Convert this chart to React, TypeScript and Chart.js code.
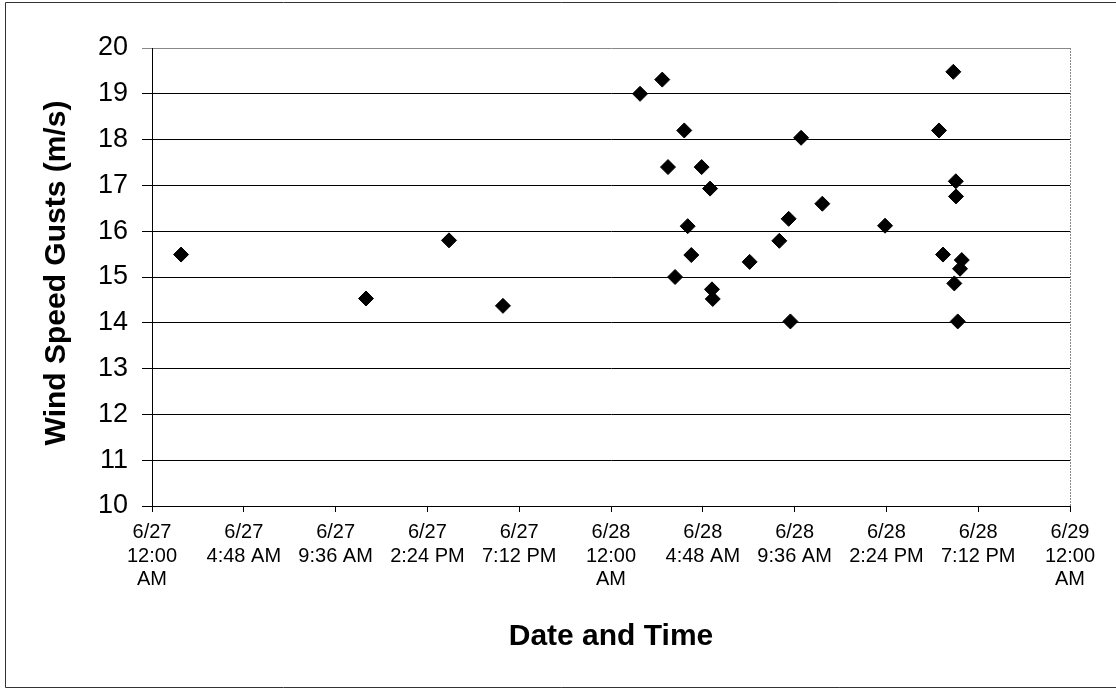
import React, { useEffect, useRef } from "react";
import { Chart, registerables } from "chart.js";

Chart.register(...registerables);

// Hours elapsed since 6/27 12:00 AM for each gust observation
const gustHours: number[] = [
  1.52, 11.19, 15.53, 18.35,
  25.52, 26.68, 27.83, 33.94, 26.98, 28.74, 29.18, 35.05, 33.29, 28.01,
  32.8, 28.2, 31.25, 27.35, 29.28, 29.32, 33.38,
  41.9, 41.15, 42.03, 42.04, 38.33, 41.36, 42.34, 42.25, 41.95, 42.13,
];

// Wind speed gusts (m/s)
const gustSpeeds: number[] = [
  15.49, 14.53, 15.8, 14.37,
  19.0, 19.31, 18.2, 18.04, 17.4, 17.4, 16.93, 16.6, 16.27, 16.11,
  15.79, 15.48, 15.33, 15.0, 14.73, 14.52, 14.03,
  19.48, 18.2, 17.09, 16.76, 16.12, 15.49, 15.37, 15.18, 14.86, 14.03,
];

const xTickHours: number[] = [0, 4.8, 9.6, 14.4, 19.2, 24, 28.8, 33.6, 38.4, 43.2, 48];
const xTickLabels: string[][] = [
  ["6/27", "12:00", "AM"],
  ["6/27", "4:48 AM"],
  ["6/27", "9:36 AM"],
  ["6/27", "2:24 PM"],
  ["6/27", "7:12 PM"],
  ["6/28", "12:00", "AM"],
  ["6/28", "4:48 AM"],
  ["6/28", "9:36 AM"],
  ["6/28", "2:24 PM"],
  ["6/28", "7:12 PM"],
  ["6/29", "12:00", "AM"],
];

const yMin = 10;
const yMax = 20;
const xTitle = "Date and Time";
const yTitle = "Wind Speed Gusts (m/s)";

const FONT = "'Liberation Sans', Arial, sans-serif";

export default function App() {
  const canvasRef = useRef<HTMLCanvasElement | null>(null);

  useEffect(() => {
    document.body.style.margin = "0";
    const canvas = canvasRef.current;
    if (!canvas) return;

    const decor = {
      id: "decor",
      beforeDraw(chart: any) {
        const ctx = chart.ctx;
        ctx.save();
        ctx.fillStyle = "#fff";
        ctx.fillRect(0, 0, chart.width, chart.height);
        ctx.restore();
      },
      afterDraw(chart: any) {
        const ctx = chart.ctx;
        const a = chart.chartArea;
        ctx.save();
        // outer frame
        ctx.strokeStyle = "#333";
        ctx.lineWidth = 1;
        ctx.beginPath();
        ctx.moveTo(1120, 2.5);
        ctx.lineTo(5.5, 2.5);
        ctx.lineTo(5.5, 687.5);
        ctx.lineTo(1120, 687.5);
        ctx.stroke();
        // plot area right border (light, dotted look)
        ctx.strokeStyle = "#888";
        ctx.setLineDash([2, 1]);
        ctx.beginPath();
        ctx.moveTo(Math.round(a.right) + 0.5, a.top);
        ctx.lineTo(Math.round(a.right) + 0.5, a.bottom);
        ctx.stroke();
        ctx.setLineDash([]);
        // titles
        ctx.fillStyle = "#000";
        ctx.font = `bold 30px ${FONT}`;
        ctx.textAlign = "center";
        ctx.textBaseline = "alphabetic";
        ctx.fillText(xTitle, (a.left + a.right) / 2, 645);
        ctx.translate(65, (a.top + a.bottom) / 2 - 4);
        ctx.rotate(-Math.PI / 2);
        ctx.fillText(yTitle, 0, 0);
        ctx.restore();
      },
    };

    const chart = new Chart(canvas, {
      type: "scatter",
      data: {
        datasets: [
          {
            label: "Wind Speed Gusts",
            data: gustHours.map((h, i) => ({ x: h, y: gustSpeeds[i] })),
            pointStyle: "rectRot",
            pointRadius: 7.5,
            pointHoverRadius: 7.5,
            backgroundColor: "#000",
            borderColor: "#000",
            borderWidth: 1,
          },
        ],
      },
      options: {
        responsive: false,
        animation: false,
        layout: { padding: { top: 48, right: 46, bottom: 0, left: 0 } },
        plugins: {
          legend: { display: false },
          tooltip: { enabled: false },
          title: { display: false },
        },
        scales: {
          x: {
            type: "linear",
            min: 0,
            max: 48,
            afterFit(scale: any) {
              scale.height = 183;
            },
            afterBuildTicks(scale: any) {
              scale.ticks = xTickHours.map((v) => ({ value: v }));
            },
            ticks: {
              autoSkip: false,
              maxRotation: 0,
              minRotation: 0,
              padding: 9,
              color: "#000",
              font: { family: FONT, size: 20, lineHeight: 1.17 },
              callback: (_v: any, i: number) => xTickLabels[i],
            },
            grid: {
              drawOnChartArea: false,
              drawTicks: true,
              tickLength: 6,
              color: "#000",
            },
            border: { display: true, color: "#000", width: 1 },
          },
          y: {
            min: yMin,
            max: yMax,
            afterFit(scale: any) {
              scale.width = 152;
            },
            ticks: {
              stepSize: 1,
              padding: 14,
              color: "#000",
              font: { family: FONT, size: 27 },
            },
            grid: {
              drawOnChartArea: true,
              drawTicks: true,
              tickLength: 10,
              color: (c: any) => (c.tick && c.tick.value === yMax ? "#888" : "#000"),
              lineWidth: 1,
            },
            border: { display: true, color: "#000", width: 1 },
          },
        },
      },
      plugins: [decor],
    });

    return () => chart.destroy();
  }, []);

  return (
    <div style={{ width: 1116, height: 689 }}>
      <canvas ref={canvasRef} width={1116} height={689} />
    </div>
  );
}
